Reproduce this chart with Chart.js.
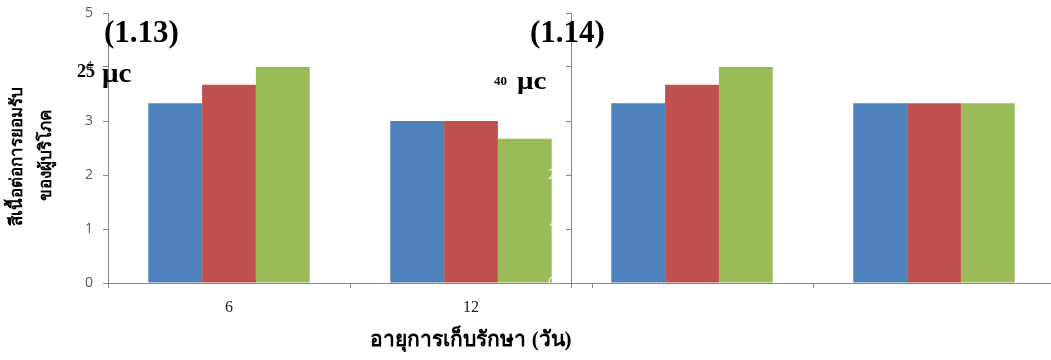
<!DOCTYPE html>
<html>
<head>
<meta charset="utf-8">
<script src="https://cdn.jsdelivr.net/npm/chart.js@4/dist/chart.umd.min.js"></script>
<style>
  html, body { margin:0; padding:0; width:1051px; height:360px; overflow:hidden; background:#fff; }
  .cv { position:absolute; top:0; }
  .txt { position:absolute; white-space:nowrap; color:#000; line-height:1; }
  .serif { font-family:"Liberation Serif", "DejaVu Serif", serif; font-weight:bold; }
  .sx { display:inline-block; transform-origin:left center; }
  .rot { position:absolute; width:220px; height:24px; line-height:24px; text-align:center; transform-origin:center center; transform:rotate(-90deg); white-space:nowrap; font-weight:bold; color:#000; font-family:"Noto Sans", "DejaVu Sans", sans-serif; }
</style>
</head>
<body>
<div class="cv" style="left:0;width:600px;height:360px;"><canvas id="c1" width="600" height="360"></canvas></div>
<div class="cv" style="left:460px;width:600px;height:360px;"><canvas id="c2" width="600" height="360"></canvas></div>

<div class="txt serif" style="left:104px;top:16px;font-size:31px;">(1.13)</div>
<div class="txt serif" style="left:77px;top:62px;font-size:18px;">25</div>
<div class="txt serif" style="left:102px;top:59px;font-size:28px;"><span class="sx" style="transform:scaleX(1.04);">μc</span></div>
<div class="txt serif" style="left:530px;top:16px;font-size:31px;">(1.14)</div>
<div class="txt serif" style="left:494px;top:74px;font-size:13px;">40</div>
<div class="txt serif" style="left:517px;top:68px;font-size:26px;"><span class="sx" style="transform:scaleX(1.12);">μc</span></div>

<div class="rot" style="left:-94px;top:144px;font-size:17px;">สีเนื้อต่อการยอมรับ</div>
<div class="rot" style="left:-65px;top:143px;font-size:17px;">ของผู้บริโภค</div>
<div class="txt" style="left:471px;top:340px;transform:translate(-50%,-50%);font-size:21px;line-height:1.3;font-weight:bold;font-family:'Liberation Serif','DejaVu Serif',serif;">อายุการเก็บรักษา (วัน)</div>

<script>
const categories = ["6", "12"];
const leftBlue  = [3.33, 3.0];
const leftRed   = [3.67, 3.0];
const leftGreen = [4.0, 2.67];
const rightBlue  = [3.33, 3.33];
const rightRed   = [3.67, 3.33];
const rightGreen = [4.0, 3.33];
const yMin = 0, yMax = 5, yStep = 1;

const BLUE = "#4F81BD", RED = "#C0504D", GREEN = "#9BBB59";
const AXIS = "#868686";

function makeChart(id, b, r, g, yw, padRight, tickColor, xTickColor) {
  return new Chart(document.getElementById(id), {
    type: "bar",
    data: {
      labels: categories,
      datasets: [
        { data: b, backgroundColor: BLUE },
        { data: r, backgroundColor: RED },
        { data: g, backgroundColor: GREEN }
      ]
    },
    options: {
      responsive: false,
      animation: false,
      events: [],
      layout: { padding: { top: 13, right: padRight, left: 0, bottom: 0 } },
      datasets: { bar: { categoryPercentage: 0.667, barPercentage: 1.0 } },
      plugins: { legend: { display: false }, tooltip: { enabled: false }, title: { display: false } },
      scales: {
        x: {
          afterFit: s => { s.height = 77; s.paddingLeft = 0; s.paddingRight = 0; },
          grid: { display: true, drawOnChartArea: false, tickLength: 5, color: AXIS, offset: true },
          border: { display: true, color: AXIS },
          ticks: { color: xTickColor, padding: 10, font: { family: "Liberation Serif", size: 16 } }
        },
        y: {
          min: yMin, max: yMax,
          afterFit: s => { s.width = yw; s.paddingTop = 4; s.paddingBottom = 4; },
          grid: { display: true, drawOnChartArea: false, tickLength: 5, color: AXIS },
          border: { display: true, color: AXIS },
          ticks: { stepSize: yStep, color: tickColor, padding: 10, font: { family: "Open Sans", size: 14 } }
        }
      }
    }
  });
}

makeChart("c1", leftBlue, leftRed, leftGreen, 108, 8, "#595959", "#222");
makeChart("c2", rightBlue, rightRed, rightGreen, 111, 5, "rgba(255,255,255,0.8)", "rgba(255,255,255,0)");
</script>
</body>
</html>
